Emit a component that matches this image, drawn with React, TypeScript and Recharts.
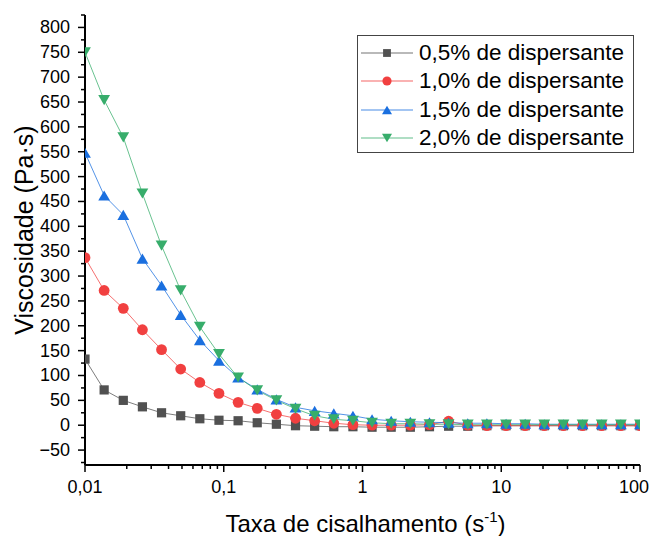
import React from "react";
import { LineChart, Line, XAxis, YAxis, Label } from "recharts";

// shear rate (1/s), log spaced
const shearRate = [
  0.01, 0.01374, 0.01888, 0.02593, 0.03562, 0.04894, 0.06723, 0.09237, 0.1269, 0.1743,
  0.2395, 0.329, 0.452, 0.621, 0.8532, 1.172, 1.61, 2.212, 3.039, 4.175,
  5.736, 7.88, 10.83, 14.87, 20.43, 28.07, 38.57, 52.98, 72.79, 100,
];

// viscosity (Pa·s)
const visc05 = [133, 71, 50, 37, 25, 19, 13, 10, 9, 5, 2, -1, -2, -3, -3, -4, -4, -4, -3, -2, -2, -1, -1, -1, -1, -1, -1, -1, -1, -1];
const visc10 = [337, 271, 235, 192, 152, 113, 86, 64, 46, 34, 22, 14, 9, 4, 1, 0, 0, 0, 1, 8, 0, -1, -1, -1, -1, -1, -1, -1, -1, -1];
const visc15 = [548, 462, 423, 335, 281, 222, 171, 130, 96, 72, 52, 36, 29, 24, 19, 12, 9, 7, 6, 5, 4, 4, 3, 3, 2, 2, 2, 2, 2, 2];
const visc20 = [750, 654, 579, 466, 361, 271, 198, 143, 96, 70, 50, 33, 19, 12, 9, 5, 3, 3, 2, 2, 1, 1, 1, 1, 1, 1, 1, 1, 1, 1];

const seriesNames = [
  "0,5% de dispersante",
  "1,0% de dispersante",
  "1,5% de dispersante",
  "2,0% de dispersante",
];
const seriesColors = ["#515151", "#F14040", "#1A6FDF", "#37AD6B"];
const seriesShapes = ["square", "circle", "triangle", "triangleDown"];
const seriesKeys = ["s05", "s10", "s15", "s20"];

const xMajorTicks = [0.01, 0.1, 1, 10, 100];

const data = shearRate.map((x, i) => ({
  x,
  s05: visc05[i],
  s10: visc10[i],
  s15: visc15[i],
  s20: visc20[i],
}));

// minor ticks at 2..9 per decade
const xTicks: number[] = [];
for (let d = 0; d < xMajorTicks.length; d++) {
  xTicks.push(xMajorTicks[d]);
  if (d < xMajorTicks.length - 1) {
    for (let m = 2; m <= 9; m++) xTicks.push(+(xMajorTicks[d] * m).toPrecision(3));
  }
}
const yTicks: number[] = [];
for (let v = -75; v <= 825; v += 25) yTicks.push(v);

const FONT = "'Liberation Sans', Arial, sans-serif";

function Marker({ shape, cx, cy, color, s = 1 }: any) {
  if (shape === "square") {
    const h = 4.6 * s;
    return <rect x={cx - h} y={cy - h} width={2 * h} height={2 * h} fill={color} />;
  }
  if (shape === "circle") {
    return <circle cx={cx} cy={cy} r={5.4 * s} fill={color} />;
  }
  const w = 5.9 * s;
  const h = 5.1 * s;
  if (shape === "triangle") {
    return <polygon points={`${cx},${cy - h} ${cx + w},${cy + h} ${cx - w},${cy + h}`} fill={color} />;
  }
  return <polygon points={`${cx - w},${cy - h} ${cx + w},${cy - h} ${cx},${cy + h}`} fill={color} />;
}

const makeDot = (shape: string, color: string) => (props: any) => {
  const { cx, cy, index } = props;
  return (
    <g key={`d-${shape}-${index}`}>
      <Marker shape={shape} cx={cx} cy={cy} color={color} />
    </g>
  );
};

const isDecade = (v: number) => Math.abs(Math.log10(v) - Math.round(Math.log10(v))) < 1e-6;

const XTick = (props: any) => {
  const { x, y, payload } = props;
  const v = payload.value;
  const major = isDecade(v);
  return (
    <g>
      <line x1={x} x2={x} y1={y} y2={y + (major ? 7 : 4)} stroke="#000" strokeWidth={1.5} />
      {major && (
        <text x={v === 100 ? x - 6 : x} y={y + 28} textAnchor="middle" fontSize={18} fill="#000" fontFamily={FONT}>
          {String(v).replace(".", ",")}
        </text>
      )}
    </g>
  );
};

const YTick = (props: any) => {
  const { x, y, payload } = props;
  const v = payload.value;
  const major = v % 50 === 0 && v >= -50 && v <= 800;
  return (
    <g>
      <line x1={x} x2={x - (major ? 7 : 4)} y1={y} y2={y} stroke="#000" strokeWidth={1.5} />
      {major && (
        <text x={x - 15} y={y + 6} textAnchor="end" fontSize={18} fill="#000" fontFamily={FONT}>
          {v < 0 ? `\u2212${Math.abs(v)}` : v}
        </text>
      )}
    </g>
  );
};

const XTitle = (props: any) => {
  const { viewBox } = props;
  const cx = viewBox.x + viewBox.width / 2 + 3;
  return (
    <text x={cx} y={viewBox.y + 67} textAnchor="middle" fontSize={24} fill="#000" fontFamily={FONT}>
      <tspan>Taxa de cisalhamento (s</tspan>
      <tspan dy={-10} fontSize={15}>-1</tspan>
      <tspan dy={10}>)</tspan>
    </text>
  );
};

const YTitle = () => (
  <text
    x={25}
    y={222}
    transform="rotate(-90 25 222)"
    textAnchor="middle"
    fontSize={25}
    fill="#000"
    fontFamily={FONT}
  >
    Viscosidade (Pa·s)
  </text>
);

function LegendBox() {
  return (
    <div
      style={{
        position: "absolute",
        left: 349,
        top: 27,
        width: 277,
        height: 118,
        border: "1px solid #444",
        background: "#fff",
        fontFamily: FONT,
        fontSize: 22.5,
        paddingTop: 3,
        boxSizing: "border-box",
      }}
    >
      {seriesNames.map((name, i) => (
        <div key={name} style={{ height: 28.3, display: "flex", alignItems: "center" }}>
          <svg width={60} height={20} style={{ flex: "none" }}>
            <line x1={3} x2={55} y1={10} y2={10} stroke={seriesColors[i]} strokeWidth={1} strokeOpacity={0.8} />
            <Marker shape={seriesShapes[i]} cx={29} cy={10} color={seriesColors[i]} s={0.85} />
          </svg>
          <span style={{ marginLeft: 1, whiteSpace: "nowrap" }}>{name}</span>
        </div>
      ))}
    </div>
  );
}

export default function App() {
  return (
    <div style={{ position: "relative", width: 649, height: 528 }}>
      <LineChart
        width={649}
        height={528}
        data={data}
        margin={{ top: 7, right: 17, left: 0, bottom: 0 }}
        style={{ fontFamily: FONT, overflow: "visible" }}
      >
        <XAxis
          dataKey="x"
          type="number"
          scale="log"
          domain={[0.01, 100]}
          ticks={xTicks}
          interval={0}
          allowDataOverflow
          height={71}
          tick={<XTick />}
          tickLine={false}
          tickSize={0}
          tickMargin={0}
          axisLine={{ stroke: "#000", strokeWidth: 2 }}
        >
          <Label content={<XTitle />} />
        </XAxis>
        <YAxis
          type="number"
          domain={[-80, 825]}
          ticks={yTicks}
          interval={0}
          allowDataOverflow
          width={77}
          tick={<YTick />}
          tickLine={false}
          tickSize={0}
          tickMargin={0}
          axisLine={{ stroke: "#000", strokeWidth: 2 }}
        >
          <Label content={<YTitle />} />
        </YAxis>
        {seriesKeys.map((k, i) => (
          <Line
            key={k}
            dataKey={k}
            name={seriesNames[i]}
            type="linear"
            stroke={seriesColors[i]}
            strokeWidth={1}
            strokeOpacity={0.75}
            dot={makeDot(seriesShapes[i], seriesColors[i])}
            activeDot={false}
            isAnimationActive={false}
          />
        ))}
      </LineChart>
      <LegendBox />
    </div>
  );
}
